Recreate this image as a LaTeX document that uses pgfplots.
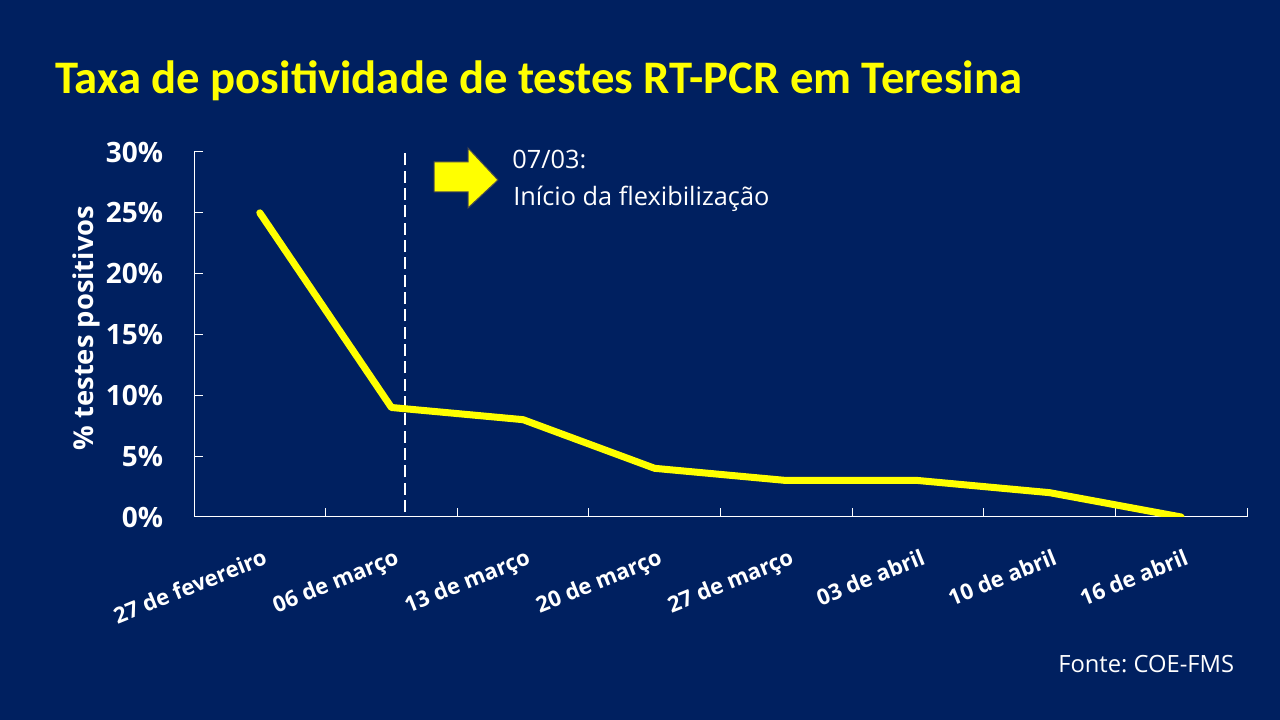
\documentclass[border=0pt]{standalone}
\usepackage{pgfplots}
\pgfplotsset{compat=1.18}
\usepackage{fontspec}
\setmainfont{Open Sans}
\newfontfamily\titlefont{Carlito}
\definecolor{bg}{HTML}{002060}
\definecolor{ylw}{HTML}{FFFF00}
\frenchspacing
\begin{document}
\begin{tikzpicture}[x=0.75pt,y=0.75pt]
\fill[bg] (0,0) rectangle (1280,720);
\node[anchor=base west, inner sep=0pt, text=ylw, font={\titlefont\bfseries\fontsize{35pt}{39pt}\selectfont}] at (55,626) {Taxa de positividade de testes RT-PCR em Teresina};
\node[anchor=base, inner sep=0pt, rotate=90, text=white, font={\bfseries\fontsize{20.5pt}{24pt}\selectfont}] at (93,392) {\% testes positivos};
\begin{axis}[
  at={(145.5pt,152.25pt)}, anchor=south west,
  scale only axis, width=789.75pt, height=273.75pt,
  xmin=-0.5, xmax=7.5, ymin=0, ymax=30,
  separate axis lines,
  axis x line*=bottom, axis y line*=left,
  axis line style={white, line width=0.75pt},
  tick align=inside,
  major tick length=7pt,
  tick style={white, line width=0.75pt},
  ytick={0,5,10,15,20,25,30},
  yticklabels={0\%,5\%,10\%,15\%,20\%,25\%,30\%},
  yticklabel style={text=white, font={\bfseries\fontsize{21pt}{25pt}\selectfont}, anchor=east, inner sep=0pt, xshift=-23pt},
  xtick={-0.5,0.5,1.5,2.5,3.5,4.5,5.5,6.5,7.5},
  xticklabels={,,,,,,,,},
  extra x ticks={0,1,2,3,4,5,6,7},
  extra x tick labels={27 de fevereiro,06 de março,13 de março,20 de março,27 de março,03 de abril,10 de abril,16 de abril},
  extra x tick style={major tick length=0pt, xticklabel style={text=white, font={\bfseries\fontsize{16.5pt}{19pt}\selectfont}, rotate=22, anchor=north east, inner sep=0pt, yshift=-22pt, xshift=-7pt}},
]
\addplot[white, line width=1.5pt, dash pattern=on 9pt off 4pt] coordinates {(1.1,0.4) (1.1,30)};
\addplot[ylw, line width=5.25pt, line cap=round, line join=round] coordinates {
(0,25) (1,9) (2,8) (3,4) (4,3) (5,3) (6,2) (7,0)};
\end{axis}
\filldraw[fill=ylw, draw=black!70, line width=0.75pt] (434,558) -- (468,558) -- (468,572) -- (498,540) -- (468,512) -- (468,528) -- (434,528) -- cycle;
\node[anchor=base west, inner sep=0pt, text=white, font={\fontsize{19pt}{22pt}\selectfont}] at (512,551) {07/03:};
\node[anchor=base west, inner sep=0pt, text=white, font={\fontsize{19pt}{22pt}\selectfont}] at (513,514) {Início da flexibilização};
\node[anchor=base west, inner sep=0pt, text=white, font={\fontsize{17.8pt}{21pt}\selectfont}] at (1058,47) {Fonte: COE-FMS};
\pgfresetboundingbox
\useasboundingbox (0,0) rectangle (1280,720);
\end{tikzpicture}
\end{document}
